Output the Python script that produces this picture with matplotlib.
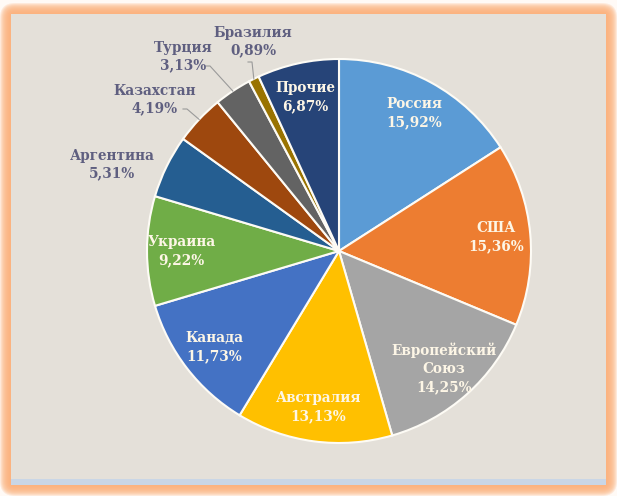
import numpy as np
import matplotlib.pyplot as plt
from matplotlib.patches import FancyBboxPatch, Rectangle

# data
countries = ["Россия", "США", "Европейский\nСоюз", "Австралия", "Канада", "Украина",
             "Аргентина", "Казахстан", "Турция", "Бразилия", "Прочие"]
shares = [15.92, 15.36, 14.25, 13.13, 11.73, 9.22, 5.31, 4.19, 3.13, 0.89, 6.87]
colors = ["#5b9bd5", "#ed7d31", "#a5a5a5", "#ffc000", "#4472c4", "#70ad47",
          "#255e91", "#9e480e", "#636363", "#997300", "#264478"]
outside = ["Аргентина", "Казахстан", "Турция", "Бразилия"]

# layout (pixel coords, y up)
W, H = 617, 496
cx, cy, R = 339, 245, 192
outer_pos = {"Аргентина": (112, 331), "Казахстан": (155, 396),
             "Турция": (183, 439), "Бразилия": (253, 454)}
leader = {"Казахстан": (187, 387), "Турция": (210, 430), "Бразилия": (252, 434)}

fig = plt.figure(figsize=(W / 100, H / 100), dpi=100)
fig.patch.set_facecolor("#fffaf6")
ax = fig.add_axes([0, 0, 1, 1])

# orange glowing frame
for pad in range(11, -1, -1):
    ax.add_patch(FancyBboxPatch((11 - pad, 11 - pad), 595 + 2 * pad, 471 + 2 * pad,
                                boxstyle="round,pad=0,rounding_size=%d" % (4 + pad),
                                fc="#fbb07a", ec="none", alpha=0.22, zorder=0))
ax.add_patch(Rectangle((11, 11), 595, 471, fc="#e4e0d9", ec="none", zorder=1))
ax.add_patch(Rectangle((11, 11), 595, 6, fc="#c9d6e6", ec="none", zorder=1))

wedges, _ = ax.pie(shares, colors=colors, startangle=90, counterclock=False,
                   center=(cx, cy), radius=R,
                   wedgeprops=dict(edgecolor="#fdfbf5", linewidth=1.5))
for w in wedges:
    w.set_zorder(2)

font = dict(family="DejaVu Serif", fontweight="bold", fontsize=9.8)
for w, name, val in zip(wedges, countries, shares):
    txt = "%s\n%s%%" % (name, ("%.2f" % val).replace(".", ","))
    mid = np.deg2rad((w.theta1 + w.theta2) / 2)
    if name in outside:
        x, y = outer_pos[name]
        ax.text(x, y, txt, ha="center", va="center", color="#5f5f80",
                linespacing=1.3, zorder=4, **font)
        if name in leader:
            ex, ey = cx + R * np.cos(mid), cy + R * np.sin(mid)
            lx, ly = leader[name]
            ax.plot([lx - 4, lx, ex], [ly, ly, ey], color="#9a9a9a", lw=0.8, zorder=3)
    else:
        x, y = cx + 0.82 * R * np.cos(mid), cy + 0.82 * R * np.sin(mid)
        ax.text(x, y, txt, ha="center", va="center", color="#fdf6e6",
                linespacing=1.4, zorder=4, **font)

ax.set_xlim(0, W)
ax.set_ylim(0, H)
ax.set_aspect("auto")
ax.axis("off")
fig.savefig("out.png", dpi=100)
